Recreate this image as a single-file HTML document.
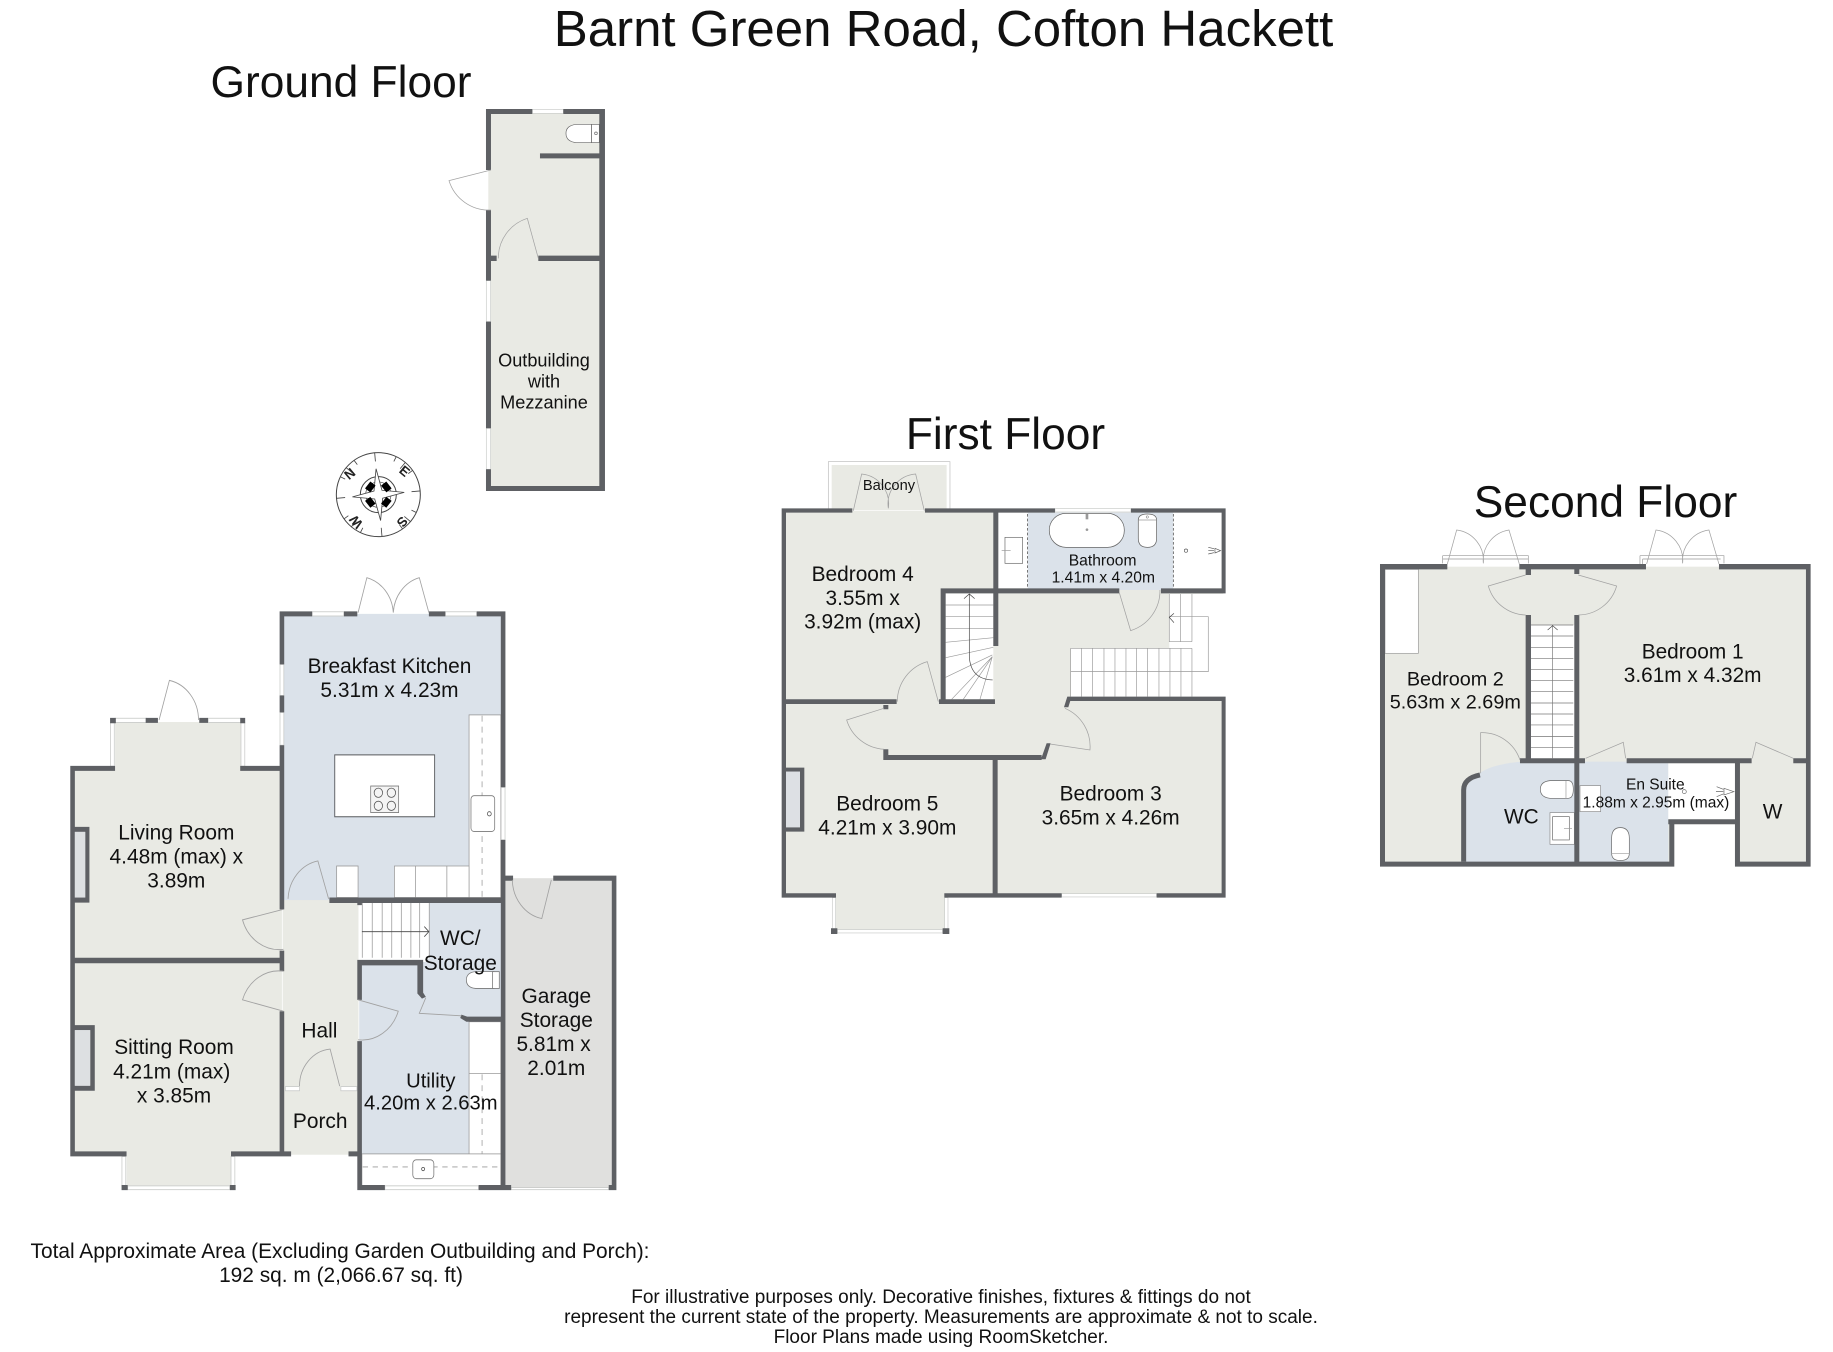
<!DOCTYPE html>
<html><head><meta charset="utf-8"><style>
html,body{margin:0;padding:0;background:#fff}
svg{display:block}
text{font-family:"Liberation Sans",sans-serif;fill:#111;text-anchor:middle}
.w{fill:#5e6064}
.d{fill:none;stroke:#a2a2a2;stroke-width:2.2}
.l{fill:none;stroke:#9a9a9a;stroke-width:2}
.win{fill:#fff;stroke:#c9cbc9;stroke-width:2}
.g{fill:#e9eae4}.b{fill:#dbe2ea}
</style></head><body>
<svg width="1833" height="1352" viewBox="0 0 1833 1352" xmlns="http://www.w3.org/2000/svg">
<rect width="1833" height="1352" fill="#fff"/>
<text x="943.5" y="46" font-size="51">Barnt Green Road, Cofton Hackett</text>
<text x="341" y="97" font-size="44.3">Ground Floor</text>
<text x="1005.5" y="449" font-size="44.3">First Floor</text>
<text x="1605.5" y="517" font-size="44.3">Second Floor</text>

<!-- GROUND FLOOR -->
<g transform="translate(50,560) scale(0.3827,0.4209)">
<rect class="b" x="608" y="128" width="574" height="685"/>
<path class="g" d="M65 495H170V385H500V495H606V950H65Z"/>
<path class="g" d="M65 952H606V1412H475V1490H200V1412H65Z"/>
<rect class="g" x="608" y="808" width="198" height="605"/>
<path class="b" d="M808 955H1095V1412H808Z"/>
<path class="b" d="M990 812H1180V1090H1085L965 1080 975 960 990 945Z"/>
<rect x="1186" y="756" width="286" height="738" fill="#e0e0de"/>
<rect x="815" y="815" width="176" height="132" fill="#fff"/>
<rect x="1095" y="368" width="83" height="434" fill="#fff" stroke="#9a9a9a" stroke-width="2"/>
<rect x="749" y="727" width="56" height="75" fill="#fff" stroke="#9a9a9a" stroke-width="2"/>
<path d="M900 802V727H1095V802Z" fill="#fff" stroke="#9a9a9a" stroke-width="2"/>
<path class="l" d="M955 727V802M1037 727V802"/>
<path class="l" stroke-dasharray="14 12" d="M1129 370V800"/>
<rect x="744" y="463" width="261" height="147" fill="#fff" stroke="#5e6064" stroke-width="2.5"/>
<rect x="838" y="537" width="73" height="63" fill="#f4f4f4" stroke="#777" stroke-width="2"/>
<g fill="none" stroke="#555" stroke-width="2"><circle cx="858" cy="553" r="11"/><circle cx="892" cy="553" r="11"/><circle cx="858" cy="584" r="11"/><circle cx="892" cy="584" r="11"/></g>
<rect x="1100" y="560" width="62" height="85" rx="8" fill="#fff" stroke="#777" stroke-width="2"/>
<circle cx="1148" cy="603" r="5" fill="none" stroke="#555" stroke-width="2"/>
<rect x="1095" y="1097" width="83" height="315" fill="#fff" stroke="#9a9a9a" stroke-width="2"/>
<path class="l" d="M1095 1220H1178"/>
<path class="l" stroke-dasharray="14 12" d="M1129 1222V1410"/>
<rect x="815" y="1411" width="363" height="76" fill="#fff" stroke="#9a9a9a" stroke-width="2"/>
<path class="l" stroke-dasharray="14 12" d="M817 1442H1176"/>
<rect x="948" y="1425" width="55" height="45" rx="9" fill="#fff" stroke="#777" stroke-width="2"/>
<circle cx="975" cy="1447" r="4" fill="none" stroke="#555" stroke-width="2"/>
<path d="M1160 978H1112Q1088 980 1088 998Q1088 1016 1112 1018H1160Z" fill="#fff" stroke="#777" stroke-width="2"/>
<rect x="1156" y="978" width="18" height="40" fill="#fff" stroke="#777" stroke-width="2"/>
<path class="l" d="M816 815V945M842 815V945M868 815V945M893 815V945M918 815V945M943 815V945M966 815V945M991 815V945"/>
<path d="M815 883H990M978 871L990 883 978 895" fill="none" stroke="#444" stroke-width="2"/>
<!-- windows -->
<rect class="win" x="685" y="123" width="83" height="10"/><rect class="win" x="1033" y="123" width="82" height="10"/>
<rect class="win" x="601" y="248" width="10" height="74"/><rect class="win" x="601" y="362" width="10" height="78"/>
<rect class="win" x="1179" y="540" width="10" height="125"/>
<rect class="win" x="170" y="376" width="82" height="10"/><rect class="win" x="413" y="376" width="86" height="10"/>
<rect class="win" x="158" y="386" width="10" height="104"/><rect class="win" x="499" y="386" width="10" height="104"/>
<rect class="win" x="188" y="1417" width="10" height="70"/><rect class="win" x="473" y="1417" width="10" height="70"/>
<rect class="win" x="203" y="1487" width="267" height="9"/>
<rect class="win" x="875" y="1487" width="245" height="9"/>
<rect class="win" x="1205" y="1491" width="255" height="5"/>
<rect class="win" x="615" y="1251" width="37" height="10"/><rect class="win" x="760" y="1251" width="42" height="10"/>
<!-- walls -->
<path class="w" d="M600 122H685V134H600ZM768 122H803V134H768ZM990 122H1033V134H990ZM1115 122H1190V134H1115Z
M600 122H612V248H600ZM600 322H612V362H600ZM600 440H612V830H600ZM600 928H612V977H600ZM600 1072H612V1417H600Z
M1178 122H1190V540H1178ZM1178 665H1190V1497H1178Z
M53 489H65V1417H53ZM53 489H170V501H53ZM497 489H600V501H497Z
M157 375H172V388H157ZM497 375H510V388H497ZM250 375H282V387H250ZM390 375H413V387H390Z
M65 634H103V814H65V802H92V646H65Z
M65 945H600V958H65Z
M65 1105H117V1261H65V1249H105V1117H65Z
M53 1405H200V1417H53ZM473 1405H630V1417H473ZM780 1405H805V1417H780Z
M187 1485H203V1497H187ZM470 1485H485V1497H470Z
M730 802H1178V815H730Z
M803 815H815V820H803ZM803 950H975V963H803ZM803 950H815V1045H803ZM803 1143H815V1497H803Z
M960 950H975V1028L982 1038 972 1042 960 1030Z
M1075 1080L1090 1085H1178V1097H1088L1072 1088Z
M803 1485H875V1497H803ZM1120 1485H1205V1497H1120Z
M1190 750H1210V762H1190ZM1315 750H1480V762H1315ZM1468 750H1480V1497H1468ZM1460 1485H1480V1497H1460Z"/>
<rect x="65" y="646" width="27" height="156" fill="#dde0e2"/><rect x="65" y="1117" width="40" height="132" fill="#dde0e2"/>
<!-- doors -->
<path class="d" d="M805 125L828 42A92 92 0 0 1 897 125M990 125L965 42A92 92 0 0 0 897 125
M285 380L312 286A96 96 0 0 1 388 380
M728 805L700 715A96 96 0 0 0 622 805
M610 830L503 855A100 100 0 0 0 610 925
M610 977A100 100 0 0 0 503 1045L610 1072
M805 1045L910 1072A100 100 0 0 1 805 1140
M757 1250L732 1162A88 88 0 0 0 652 1250
M1310 760L1285 852A96 96 0 0 1 1208 760
M982 1040L965 1077L1075 1083"/>
</g>
<g font-size="20.9">
<text x="389.5" y="673">Breakfast Kitchen</text><text x="389.5" y="697">5.31m x 4.23m</text>
<text x="176.3" y="839.5">Living Room</text><text x="176.3" y="863.5">4.48m (max) x</text><text x="176.3" y="887.5">3.89m</text>
<text x="174" y="1054">Sitting Room</text><text x="171.7" y="1078.5">4.21m (max)</text><text x="174" y="1102.5">x 3.85m</text>
<text x="319.4" y="1037.7">Hall</text><text x="320.2" y="1128.2">Porch</text>
<text x="460.3" y="945">WC/</text><text x="460.3" y="970">Storage</text>
<text x="556.3" y="1002.8">Garage</text><text x="556.3" y="1026.8">Storage</text><text x="553.6" y="1050.8">5.81m x</text><text x="556.3" y="1074.8">2.01m</text>
</g>
<g font-size="20.2"><text x="430.8" y="1087.4">Utility</text><text x="430.8" y="1109.3">4.20m x 2.63m</text></g>

<!-- OUTBUILDING -->
<g transform="translate(320,90) scale(0.3333)">
<rect class="g" x="505" y="65" width="340" height="1130"/>
<rect class="win" x="637" y="58" width="93" height="12"/>
<rect class="win" x="499" y="572" width="13" height="123"/><rect class="win" x="499" y="1015" width="13" height="123"/>
<path class="w" d="M498 57H637V72H498ZM730 57H855V72H730ZM498 57H513V240H498ZM498 360H513V572H498ZM498 695H513V1015H498ZM498 1138H513V1203H498ZM838 57H855V1203H838ZM498 1188H855V1203H498ZM660 190H838V205H660ZM513 497H530V513H513ZM655 497H838V513H655Z"/>
<path class="d" d="M513 240L387 272A125 125 0 0 0 513 360M655 505L622 385A125 125 0 0 0 535 505"/>
<path d="M815 103H770Q738 106 738 130Q738 155 770 158H815Z" fill="#fff" stroke="#666" stroke-width="2"/>
<rect x="815" y="103" width="23" height="55" fill="#fff" stroke="#666" stroke-width="2"/><circle cx="828" cy="130" r="4" fill="none" stroke="#666" stroke-width="2"/>
<g font-size="54.4"><text x="672" y="830">Outbuilding</text><text x="672" y="893">with</text><text x="672" y="956">Mezzanine</text></g>
<!-- compass -->
<g transform="translate(175,1214)">
<circle r="126" fill="#fff" stroke="#444" stroke-width="3"/>
<circle r="54" fill="none" stroke="#444" stroke-width="3"/><circle r="38" fill="none" stroke="#444" stroke-width="2"/>
<g transform="rotate(-5)" stroke="#444" stroke-width="2.5" fill="#fff">
<path d="M0 -78L12 -12 78 0 12 12 0 78 -12 12 -78 0 -12 -12Z"/>
<path d="M0 -126V-100M0 126V100M126 0H100M-126 0H-100M89 89L72 72M-89 -89L-72 -72M89 -89L72 -72M-89 89L-72 72" fill="none"/>
<path d="M63 -108L55 -95M108 -63L95 -55M108 63L95 55M63 108L55 95M-63 108L-55 95M-108 63L-95 55M-108 -63L-95 -55M-63 -108L-55 -95" fill="none"/>
</g>
<g fill="#000"><rect x="-34" y="-36" width="20" height="26" transform="rotate(38 -24 -23)"/><rect x="14" y="-36" width="20" height="26" transform="rotate(-38 24 -23)"/><rect x="-34" y="10" width="20" height="26" transform="rotate(-38 -24 23)"/><rect x="14" y="10" width="20" height="26" transform="rotate(38 24 23)"/></g>
<g font-size="40" font-weight="bold"><text transform="translate(-77,-52) rotate(-40)" style="fill:#222">N</text><text transform="translate(70,-60) rotate(40)" style="fill:#222">E</text><text transform="translate(72,82) rotate(130)" y="14" style="fill:#222">S</text><text transform="translate(-67,82) rotate(-130)" y="14" style="fill:#222">W</text></g>
</g>
</g>

<!-- FIRST FLOOR -->
<g transform="translate(760,440) scale(0.3333)">
<rect class="g" x="72" y="212" width="1318" height="1155"/>
<rect class="g" x="228" y="1365" width="327" height="110"/>
<rect x="205" y="65" width="365" height="142" fill="#fff" stroke="#bbb" stroke-width="2"/>
<rect class="g" x="215" y="75" width="345" height="135"/>
<rect class="b" x="803" y="218" width="437" height="232"/>
<rect x="715" y="218" width="88" height="227" fill="#fff"/><rect x="1240" y="218" width="145" height="227" fill="#fff"/>
<path class="l" stroke="#333" stroke-dasharray="8 6" d="M803 222V443M1240 222V443" style="stroke:#333"/>
<rect x="557" y="460" width="143" height="320" fill="#fff"/>
<path d="M932 625H1228V462H1397V772H932Z" fill="#fff"/>
<rect x="868" y="220" width="225" height="102" rx="50" fill="#fff" stroke="#666" stroke-width="2.2"/>
<circle cx="981" cy="269" r="4" fill="#999"/><rect x="977" y="222" width="8" height="16" fill="#999"/>
<path d="M1135 240Q1135 222 1162 222Q1190 222 1190 240V295Q1190 322 1162 322Q1135 322 1135 295Z" fill="#fff" stroke="#666" stroke-width="2.2"/>
<path class="l" d="M1135 240H1190"/><circle cx="1162" cy="231" r="3.5" fill="none" stroke="#666" stroke-width="1.5"/>
<rect x="735" y="292" width="53" height="78" fill="#fff" stroke="#666" stroke-width="2"/>
<path class="l" d="M725 332H752"/>
<circle cx="1278" cy="332" r="5" fill="none" stroke="#555" stroke-width="2"/>
<path class="l" d="M1382 332L1365 325V339ZM1362 326L1345 322M1362 332H1345M1362 338L1345 342" style="stroke:#555"/>
<!-- stairs -->
<path class="l" d="M557 495H700M557 530H700M557 565H700M557 607L700 593M557 653L700 622M557 712L697 645M575 778L697 650M610 778L697 650M660 778L697 650"/>
<path d="M628 462V650Q632 718 698 720M612 476L628 462 644 476" fill="none" stroke="#444" stroke-width="2"/>
<path class="l" d="M932 625V770M965 625V770M998 625V770M1032 625V770M1065 625V770M1098 625V770M1130 625V770M1163 625V770M1197 625V770M1230 625V770M1263 625V770M1296 625V770M932 625H1296M932 695H1345V530H1228M1228 462V605H1296M1262 462V605M1296 462V605"/>
<path d="M1242 520L1228 532 1242 548" fill="none" stroke="#444" stroke-width="2"/>
<rect class="win" x="885" y="206" width="228" height="10"/><rect class="win" x="905" y="1361" width="285" height="10"/>
<rect class="win" x="217" y="1373" width="10" height="95"/><rect class="win" x="554" y="1373" width="10" height="95"/>
<rect class="win" x="232" y="1469" width="316" height="10"/>
<path class="w" d="M65 205H277V218H65ZM495 205H885V218H495ZM1113 205H1397V218H1113Z
M65 205H78V1373H65ZM65 1360H228V1373H65ZM553 1360H905V1373H553ZM1190 1360H1397V1373H1190Z
M1385 205H1397V460H1385ZM1385 770H1397V1373H1385Z
M700 205H715V618H700ZM700 445H1078V460H700ZM1203 445H1397V460H1203Z
M542 445H557V790H542ZM542 445H700V460H542ZM537 778H705V792H537ZM78 778H410V792H78Z
M930 770H1397V783H930ZM922 770H935L925 802H912Z
M370 795H385V808H370ZM370 928H385V960H370ZM370 945H845V960H370ZM860 910H872L857 958H843Z
M698 960H713V1360H698Z
M78 983H133V1175H78V1162H120V995H78Z
M213 1465H232V1482H213ZM548 1465H568V1482H548Z"/>
<rect x="78" y="995" width="42" height="167" fill="#dde0e4"/>
<path class="d" d="M280 212L305 102A90 90 0 0 1 385 205M493 212L467 102A90 90 0 0 0 385 205
M535 785L502 665A125 125 0 0 0 412 785
M372 805L260 840A125 125 0 0 0 372 928
M915 805A125 125 0 0 1 990 930L870 912
M1078 458L1112 572A125 125 0 0 0 1200 450"/>
<text x="387" y="150" font-size="44">Balcony</text>
<g font-size="46.9"><text x="1028" y="376">Bathroom</text><text x="1030" y="428">1.41m x 4.20m</text></g>
<g font-size="62.7">
<text x="308" y="423">Bedroom 4</text><text x="308" y="495">3.55m x</text><text x="308" y="566">3.92m (max)</text>
<text x="382" y="1112">Bedroom 5</text><text x="382" y="1184">4.21m x 3.90m</text>
<text x="1052" y="1082">Bedroom 3</text><text x="1052" y="1154">3.65m x 4.26m</text>
</g>
</g>

<!-- SECOND FLOOR -->
<g transform="translate(1360,510) scale(0.3333)">
<rect class="g" x="68" y="170" width="1278" height="892"/>
<rect x="943" y="943" width="182" height="130" fill="#fff"/>
<path class="b" d="M318 835Q340 790 400 770Q450 756 497 755H925V1058H318Z"/>
<rect x="925" y="760" width="200" height="170" fill="#fff"/>
<rect x="75" y="178" width="100" height="252" fill="#fff" stroke="#999" stroke-width="2"/>
<rect x="513" y="345" width="130" height="402" fill="#fff"/>
<path class="l" d="M513 345H640M513 378H640M513 413H640M513 446H640M513 479H640M513 512H640M513 545H640M513 579H640M513 612H640M513 645H640M513 680H640M513 712H640M578 345V745" style="stroke:#777"/>
<path d="M563 360L578 347 593 360" fill="none" stroke="#444" stroke-width="2"/>
<path d="M615 812H570Q541 815 541 838Q541 862 570 865H625Q640 865 640 838Q640 812 625 812Z" fill="#fff" stroke="#666" stroke-width="2"/>
<path class="l" d="M618 813V865"/>
<rect x="570" y="908" width="73" height="95" fill="#fff" stroke="#888" stroke-width="2"/><rect x="578" y="920" width="50" height="70" fill="#fff" stroke="#666" stroke-width="2"/>
<path class="l" d="M612 956H636"/>
<rect x="660" y="827" width="62" height="78" fill="#fff" stroke="#888" stroke-width="2"/>
<path d="M755 985Q755 953 781 953Q808 953 808 985V1030Q808 1052 781 1052Q755 1052 755 1030Z" fill="#fff" stroke="#666" stroke-width="2"/><path class="l" d="M755 1030H808"/>
<circle cx="973" cy="845" r="6" fill="none" stroke="#666" stroke-width="2"/>
<path class="l" d="M1122 845L1092 835V855ZM1090 838L1070 830M1090 845H1068M1090 852L1070 860" style="stroke:#666"/>
<path class="l" d="M248 137H505V160M248 147H505M248 137V160M840 137H1092V160M848 147H1082M840 137V162M848 147V162" style="stroke:#999"/>
<path fill="none" stroke="#5e6064" stroke-width="15" d="M311 1055V840Q311 805 360 795"/>
<path class="w" d="M60 162H262V178H60ZM478 162H858V178H478ZM1077 162H1352V178H1077Z
M60 162H75V1070H60ZM1338 162H1352V1070H1338ZM60 1055H943V1070H60ZM1125 1055H1352V1070H1125Z
M497 315H513V760H497ZM497 178H513V195H497ZM643 315H658V1055H643ZM643 178H658V192H643Z
M480 745H675V760H480ZM800 745H1175V760H800ZM1300 745H1338V760H1300Z
M1125 745H1140V1070H1125ZM925 928H1140V943H925ZM928 928H943V1070H928Z"/>
<path class="d" d="M262 162L290 60A92 92 0 0 1 370 160M478 162L447 60A92 92 0 0 0 370 160
M860 162L888 60A92 92 0 0 1 968 160M1077 162L1047 60A92 92 0 0 0 968 160
M497 195L385 228A120 120 0 0 0 497 315M655 195L770 228A120 120 0 0 1 655 315
M362 790V668A120 120 0 0 1 480 750
M677 745L790 697L797 745M1177 745L1188 697L1300 745"/>
<g font-size="62.5">
<text x="998" y="445">Bedroom 1</text><text x="998" y="516">3.61m x 4.32m</text>
<text x="484" y="940">WC</text><text x="1238" y="925">W</text>
</g>
<g font-size="59.5"><text x="286" y="527">Bedroom 2</text><text x="286" y="595">5.63m x 2.69m</text></g>
<g font-size="46.6"><text x="886" y="838">En Suite</text><text x="888" y="892">1.88m x 2.95m (max)</text></g>
</g>

<g font-size="20.9">
<text x="340" y="1258">Total Approximate Area (Excluding Garden Outbuilding and Porch):</text>
<text x="341" y="1282">192 sq. m (2,066.67 sq. ft)</text>
</g>
<g font-size="19">
<text x="941" y="1303">For illustrative purposes only. Decorative finishes, fixtures &amp; fittings do not</text>
<text x="941" y="1323">represent the current state of the property. Measurements are approximate &amp; not to scale.</text>
<text x="941" y="1343">Floor Plans made using RoomSketcher.</text>
</g>
</svg>
</body></html>
